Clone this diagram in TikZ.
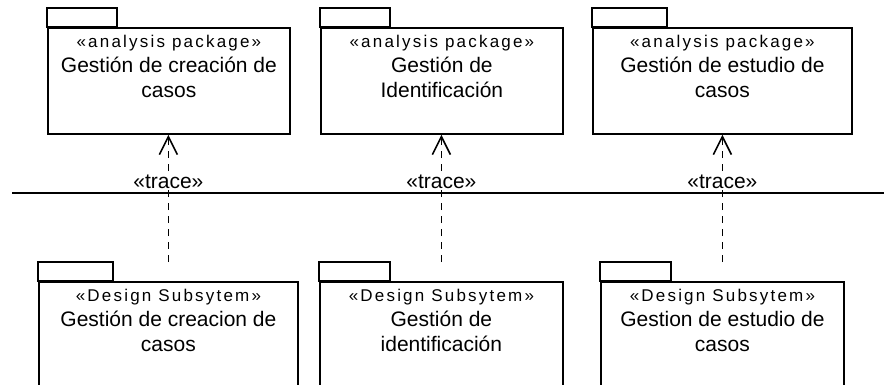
\documentclass[tikz,border=0pt]{standalone}
\usepackage{fontspec}
\setmainfont{Liberation Sans}
\newfontfamily\stereofont[LetterSpace=13]{Liberation Sans}
\usetikzlibrary{arrows.meta,calc}

\tikzset{
    pkg/.style={draw, line width=1.8pt, rectangle, anchor=north west, minimum height=106pt, inner sep=0pt},
    pkgtab/.style={draw, line width=1.8pt},
    pkgtext/.style={anchor=north, align=center, inner sep=0pt, font=\fontsize{21}{25}\selectfont},
    trace/.style={line width=1.6pt, dash pattern=on 7pt off 6pt, -{Straight Barb[length=18pt, width=18pt, line width=1.6pt]}},
    tracelabel/.style={fill=white, inner sep=0pt, font=\fontsize{21}{25}\selectfont}
}
\newcommand{\stereo}[1]{{\stereofont\fontsize{17}{21}\selectfont #1}}

\begin{document}
\begin{tikzpicture}[x=1pt, y=1pt]
    \useasboundingbox (0,0) rectangle (884,-384);
    \clip (0,0) rectangle (884,-384);

    % Paquetes de análisis
    \node[pkg, minimum width=242pt] (ap1) at (47,-27) {};
    \node[pkg, minimum width=242pt] (ap2) at (320,-27) {};
    \node[pkg, minimum width=259pt] (ap3) at (592,-27) {};
    \draw[pkgtab] (ap1.north west) rectangle ++(70,19);
    \draw[pkgtab] (ap2.north west) rectangle ++(70,19);
    \draw[pkgtab] (ap3.north west) rectangle ++(75,19);
    \node[pkgtext] (ap1t) at ($(ap1.north)+(0,-8)$) {\stereo{«analysis package»}\\Gestión de creación de\\casos};
    \node[pkgtext] (ap2t) at ($(ap2.north)+(0,-8)$) {\stereo{«analysis package»}\\Gestión de\\Identificación};
    \node[pkgtext] (ap3t) at ($(ap3.north)+(0,-8)$) {\stereo{«analysis package»}\\Gestión de estudio de\\casos};

    % Subsistemas de diseño
    \node[pkg, minimum width=259pt] (dp1) at (38,-281) {};
    \node[pkg, minimum width=243pt] (dp2) at (319,-281) {};
    \node[pkg, minimum width=243pt] (dp3) at (600,-281) {};
    \draw[pkgtab] (dp1.north west) rectangle ++(75,19);
    \draw[pkgtab] (dp2.north west) rectangle ++(71,19);
    \draw[pkgtab] (dp3.north west) rectangle ++(71,19);
    \node[pkgtext] (dp1t) at ($(dp1.north)+(0,-8)$) {\stereo{«Design Subsytem»}\\Gestión de creacion de\\casos};
    \node[pkgtext] (dp2t) at ($(dp2.north)+(0,-8)$) {\stereo{«Design Subsytem»}\\Gestión de\\identificación};
    \node[pkgtext] (dp3t) at ($(dp3.north)+(0,-8)$) {\stereo{«Design Subsytem»}\\Gestion de estudio de\\casos};

    % Dependencias trace
    \foreach \d/\a in {dp1/ap1, dp2/ap2, dp3/ap3} {
        \draw[trace, shorten <=19pt] (\d.north) -- (\d.north |- \a.south)
            node[tracelabel, pos=0.676] (\d-trace) {«trace»};
    }

    % Separador entre capas
    \coordinate (sepL) at (12,-193);
    \coordinate (sepR) at (884,-193);
    \draw[line width=1.6pt] (sepL) -- (sepR);
\end{tikzpicture}
\end{document}
